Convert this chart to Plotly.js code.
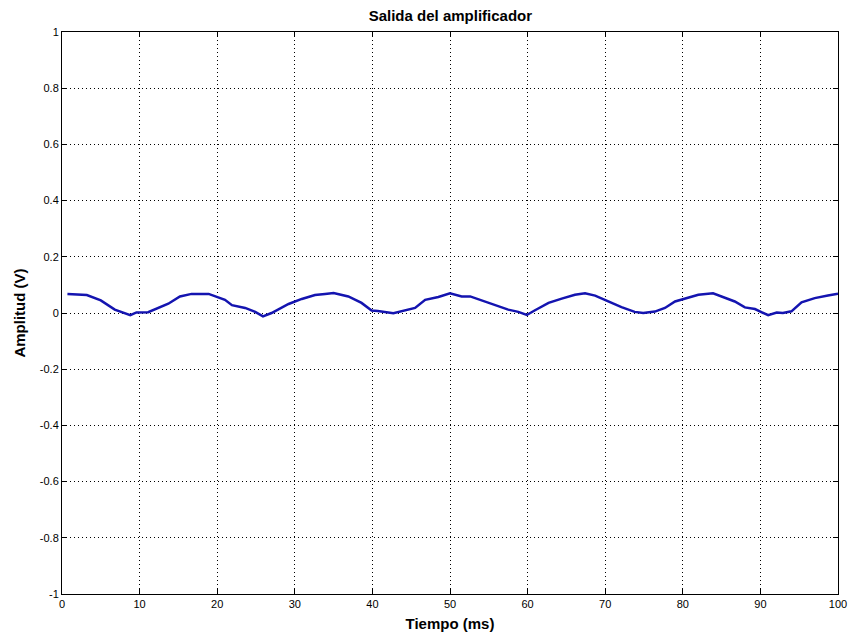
<!DOCTYPE html>
<html>
<head>
<meta charset="utf-8">
<script src="https://cdn.plot.ly/plotly-3.0.1.min.js"></script>
<style>html,body{margin:0;padding:0;background:#fff;}#chart{width:853px;height:637px;}</style>
</head>
<body>
<div id="chart"></div>
<script>
const timeMs = [0.7, 3.2, 5.0, 6.8, 8.8, 9.6, 11.1, 12.0, 13.7, 15.2, 16.7, 18.9, 20.1, 21.0, 21.9, 23.6, 24.9, 25.9, 27.0, 29.2, 30.9, 32.6, 33.9, 35.0, 36.9, 38.6, 39.9, 40.7, 42.7, 43.8, 45.5, 46.8, 48.5, 50.0, 51.5, 52.6, 54.9, 57.5, 58.8, 59.9, 60.9, 62.7, 64.4, 66.1, 67.4, 68.7, 70.4, 72.1, 73.8, 74.9, 76.4, 77.7, 79.0, 80.3, 82.0, 83.9, 85.0, 86.7, 88.0, 89.3, 91.0, 92.1, 92.9, 94.0, 95.3, 97.0, 98.7, 100.0];
const amplitudeV = [0.068, 0.064, 0.045, 0.012, -0.008, 0.002, 0.003, 0.014, 0.033, 0.059, 0.068, 0.068, 0.057, 0.047, 0.028, 0.018, 0.004, -0.012, 0.000, 0.032, 0.050, 0.064, 0.068, 0.071, 0.059, 0.036, 0.009, 0.007, -0.001, 0.007, 0.018, 0.047, 0.057, 0.070, 0.059, 0.059, 0.036, 0.012, 0.004, -0.007, 0.009, 0.036, 0.051, 0.065, 0.070, 0.062, 0.041, 0.021, 0.004, 0.000, 0.005, 0.018, 0.041, 0.051, 0.065, 0.070, 0.059, 0.041, 0.020, 0.014, -0.008, 0.002, 0.000, 0.006, 0.038, 0.053, 0.062, 0.069];
const xTickVals = [0, 10, 20, 30, 40, 50, 60, 70, 80, 90, 100];
const xTickText = ["0", "10", "20", "30", "40", "50", "60", "70", "80", "90", "100"];
const yTickVals = [-1, -0.8, -0.6, -0.4, -0.2, 0, 0.2, 0.4, 0.6, 0.8, 1];
const yTickText = ["-1", "-0.8", "-0.6", "-0.4", "-0.2", "0", "0.2", "0.4", "0.6", "0.8", "1"];

const FONT = 'Liberation Sans, Arial, sans-serif';
const axisCommon = {
  showline: true, linecolor: '#000', linewidth: 1, mirror: 'allticks',
  ticks: 'inside', ticklen: 5, tickcolor: '#000', tickwidth: 1,
  showgrid: true, gridcolor: '#000', griddash: '1px,3px', gridwidth: 1,
  zeroline: false,
  tickfont: {family: FONT, size: 11, color: '#000'},
  tickmode: 'array'
};

Plotly.newPlot('chart', [{
  x: timeMs, y: amplitudeV, type: 'scatter', mode: 'lines',
  line: {color: '#1414b0', width: 2.5}, hoverinfo: 'skip'
}], {
  width: 853, height: 637,
  margin: {l: 62, r: 15, t: 32, b: 43},
  paper_bgcolor: '#fff', plot_bgcolor: '#fff',
  showlegend: false,
  title: {text: '<b>Salida del amplificador</b>', x: 0.528, xanchor: 'center', y: 0.975, yanchor: 'middle',
          font: {family: FONT, size: 15, color: '#000'}},
  xaxis: Object.assign({}, axisCommon, {
    range: [0, 100], tickvals: xTickVals, ticktext: xTickText,
    title: {text: '<b>Tiempo (ms)</b>', standoff: 9, font: {family: FONT, size: 15, color: '#000'}}
  }),
  yaxis: Object.assign({}, axisCommon, {
    range: [-1, 1], tickvals: yTickVals, ticktext: yTickText,
    title: {text: '<b>Amplitud (V)</b>', standoff: 10, font: {family: FONT, size: 15, color: '#000'}}
  })
}, {displayModeBar: false, staticPlot: true});
</script>
</body>
</html>
